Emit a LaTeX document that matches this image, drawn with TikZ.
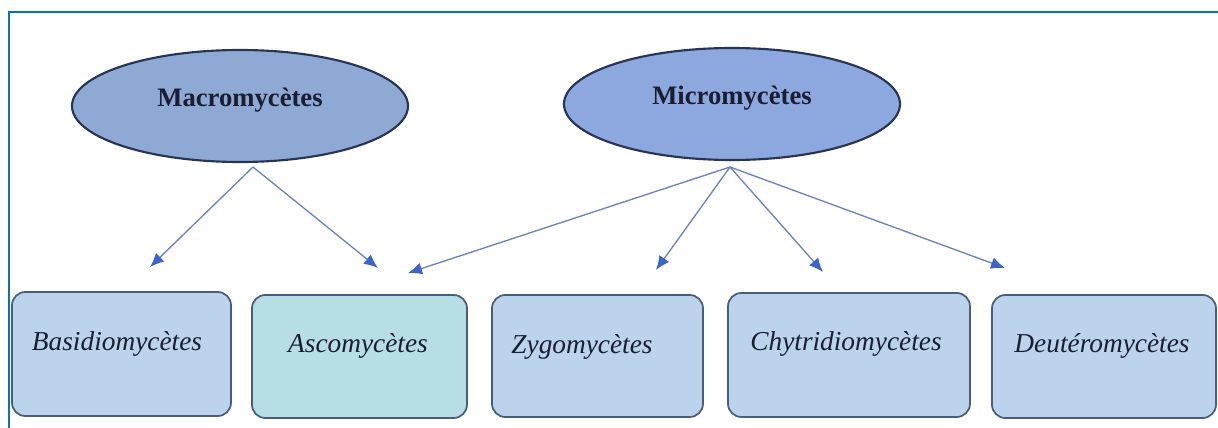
\documentclass[tikz,border=0pt]{standalone}
\usepackage{fontspec}
\setmainfont{Liberation Serif}
\usetikzlibrary{shapes.geometric,arrows.meta}
\definecolor{framecol}{RGB}{10,112,195}
\definecolor{macrofill}{RGB}{142,170,212}
\definecolor{microfill}{RGB}{140,168,222}
\definecolor{ellline}{RGB}{40,52,85}
\definecolor{boxfill}{RGB}{187,212,236}
\definecolor{ascofill}{RGB}{183,221,229}
\definecolor{boxline}{RGB}{72,92,125}
\definecolor{arrline}{RGB}{105,130,195}
\definecolor{arrhead}{RGB}{60,100,205}
\definecolor{txt}{RGB}{25,30,50}
\tikzset{
  ell/.style={ellipse, draw=ellline, line width=1.6pt, minimum width=336*0.75pt, minimum height=112*0.75pt, inner sep=0pt},
  elltext/.style={font=\fontsize{20}{22}\selectfont\bfseries, text=txt, inner sep=0pt},
  taxbox/.style={draw=boxline, fill=boxfill, line width=1.3pt, rounded corners=10pt, inner sep=0pt},
  boxtext/.style={font=\fontsize{20.5}{22}\selectfont\itshape, text=txt, inner sep=0pt},
  arr/.style={draw=arrline, line width=1pt, -{Latex[length=10.5pt,width=9pt,color=arrhead]}},
  framel/.style={draw=framecol, line width=1.6pt}
}
\begin{document}
\begin{tikzpicture}[x=0.75pt,y=-0.75pt]
\useasboundingbox (0,0) rectangle (1218,428);
% frame
\coordinate (fl) at (9,428);
\coordinate (fc) at (9,12);
\coordinate (fr) at (1218,12);
\draw[framel] (fl) -- (fc) -- (fr);
% ellipses
\node[ell, fill=macrofill] (macro) at (240,106) {};
\node[elltext] (macrot) at (240,100) {Macromycètes};
\node[ell, fill=microfill] (micro) at (732,104) {};
\node[elltext] (microt) at (732,98) {Micromycètes};
% boxes
\node[taxbox, minimum width=219*0.75pt, minimum height=124*0.75pt] (basid) at (121.5,354) {};
\node[taxbox, fill=ascofill, minimum width=215*0.75pt, minimum height=123*0.75pt] (asco) at (359.5,356.5) {};
\node[taxbox, minimum width=211*0.75pt, minimum height=122*0.75pt] (zygo) at (597.5,356) {};
\node[taxbox, minimum width=242*0.75pt, minimum height=124*0.75pt] (chytr) at (849,355) {};
\node[taxbox, minimum width=224*0.75pt, minimum height=123*0.75pt] (deut) at (1104,356.5) {};
\node[boxtext] at (117,344) {Basidiomycètes};
\node[boxtext] at (358,346) {Ascomycètes};
\node[boxtext] at (582,347) {Zygomycètes};
\node[boxtext] at (846,344) {Chytridiomycètes};
\node[boxtext] at (1102,346) {Deutéromycètes};
% arrow origins and tips
\coordinate (ma) at (253,167);
\coordinate (mi) at (730,167);
\coordinate (t1) at (150,267);
\coordinate (t2) at (378,268);
\coordinate (t3) at (408,273);
\coordinate (t4) at (656,270);
\coordinate (t5) at (823,272);
\coordinate (t6) at (1005,268);
\draw[arr] (ma) -- (t1);
\draw[arr] (ma) -- (t2);
\draw[arr] (mi) -- (t3);
\draw[arr] (mi) -- (t4);
\draw[arr] (mi) -- (t5);
\draw[arr] (mi) -- (t6);
\end{tikzpicture}
\end{document}
